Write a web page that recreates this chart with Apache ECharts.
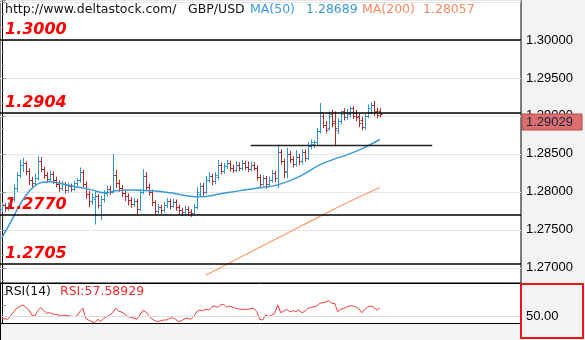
<!DOCTYPE html>
<html>
<head>
<meta charset="utf-8">
<script src="https://cdn.jsdelivr.net/npm/echarts@6/dist/echarts.min.js"></script>
<style>
  html, body { margin: 0; padding: 0; background: #f3f3f3; }
  #chart { width: 585px; height: 340px; }
</style>
</head>
<body>
<div id="chart"></div>
<script>
// GBP/USD price bars (open, high, low, close), one per period
const opens  = [1.2778,1.2783,1.2779,1.2781,1.2790,1.2805,1.2822,1.2835,1.2838,1.2828,1.2816,1.2812,1.2818,1.2840,1.2830,1.2822,1.2817,1.2824,1.2815,1.2811,
                1.2805,1.2810,1.2803,1.2808,1.2804,1.2812,1.2815,1.2826,1.2810,1.2797,1.2788,1.2790,1.2794,1.2783,1.2790,1.2798,1.2804,1.2800,1.2822,1.2812,
                1.2805,1.2799,1.2794,1.2789,1.2784,1.2788,1.2778,1.2800,1.2821,1.2806,1.2800,1.2786,1.2775,1.2780,1.2776,1.2783,1.2788,1.2782,1.2787,1.2780,
                1.2776,1.2773,1.2778,1.2774,1.2772,1.2780,1.2797,1.2808,1.2800,1.2816,1.2821,1.2814,1.2819,1.2836,1.2828,1.2834,1.2838,1.2832,1.2829,1.2836,
                1.2831,1.2838,1.2833,1.2830,1.2836,1.2832,1.2820,1.2811,1.2818,1.2810,1.2816,1.2825,1.2818,1.2852,1.2840,1.2826,1.2850,1.2843,1.2837,1.2846,
                1.2840,1.2852,1.2845,1.2860,1.2863,1.2865,1.2880,1.2900,1.2888,1.2884,1.2903,1.2893,1.2882,1.2893,1.2906,1.2899,1.2902,1.2910,1.2904,1.2900,
                1.2895,1.2885,1.2900,1.2905,1.2915,1.2907,1.2906];
const highs  = [1.2786,1.2785,1.2786,1.2793,1.2810,1.2826,1.2842,1.2845,1.2840,1.2831,1.2820,1.2824,1.2847,1.2846,1.2833,1.2826,1.2828,1.2827,1.2820,1.2815,
                1.2814,1.2813,1.2812,1.2811,1.2815,1.2818,1.2832,1.2829,1.2814,1.2801,1.2798,1.2800,1.2797,1.2795,1.2802,1.2808,1.2808,1.2850,1.2829,1.2816,
                1.2809,1.2803,1.2798,1.2793,1.2792,1.2791,1.2804,1.2830,1.2826,1.2811,1.2803,1.2789,1.2784,1.2783,1.2787,1.2792,1.2791,1.2791,1.2790,1.2783,
                1.2779,1.2782,1.2781,1.2777,1.2784,1.2806,1.2812,1.2812,1.2821,1.2826,1.2824,1.2826,1.2842,1.2839,1.2838,1.2842,1.2841,1.2836,1.2840,1.2839,
                1.2842,1.2841,1.2840,1.2840,1.2839,1.2835,1.2823,1.2822,1.2821,1.2820,1.2829,1.2828,1.2862,1.2856,1.2844,1.2858,1.2854,1.2847,1.2855,1.2850,
                1.2856,1.2856,1.2866,1.2869,1.2868,1.2884,1.2917,1.2903,1.2893,1.2906,1.2908,1.2906,1.2897,1.2907,1.2910,1.2909,1.2913,1.2913,1.2908,1.2903,
                1.2899,1.2903,1.2915,1.2918,1.2920,1.2911,1.2910];
const lows   = [1.2773,1.2774,1.2775,1.2778,1.2787,1.2800,1.2818,1.2826,1.2822,1.2809,1.2806,1.2808,1.2815,1.2826,1.2817,1.2812,1.2813,1.2810,1.2806,1.2800,
                1.2801,1.2798,1.2799,1.2800,1.2801,1.2807,1.2812,1.2806,1.2791,1.2780,1.2783,1.2757,1.2778,1.2763,1.2786,1.2794,1.2796,1.2798,1.2805,1.2800,
                1.2793,1.2788,1.2782,1.2779,1.2780,1.2769,1.2775,1.2797,1.2801,1.2795,1.2781,1.2769,1.2771,1.2771,1.2773,1.2779,1.2777,1.2779,1.2775,1.2771,
                1.2768,1.2770,1.2769,1.2767,1.2769,1.2777,1.2794,1.2795,1.2797,1.2812,1.2809,1.2810,1.2816,1.2823,1.2824,1.2830,1.2827,1.2825,1.2826,1.2827,
                1.2828,1.2829,1.2826,1.2827,1.2828,1.2815,1.2806,1.2808,1.2804,1.2806,1.2812,1.2813,1.2805,1.2836,1.2818,1.2818,1.2838,1.2832,1.2833,1.2835,
                1.2836,1.2840,1.2842,1.2856,1.2858,1.2861,1.2877,1.2884,1.2877,1.2881,1.2885,1.2860,1.2876,1.2889,1.2894,1.2895,1.2898,1.2896,1.2893,1.2885,
                1.2881,1.2882,1.2897,1.2902,1.2900,1.2897,1.2898];
const closes = [1.2783,1.2779,1.2782,1.2790,1.2805,1.2822,1.2835,1.2838,1.2828,1.2816,1.2812,1.2818,1.2840,1.2830,1.2822,1.2817,1.2824,1.2815,1.2811,1.2805,
                1.2810,1.2803,1.2808,1.2804,1.2812,1.2815,1.2826,1.2810,1.2797,1.2788,1.2793,1.2794,1.2783,1.2790,1.2798,1.2804,1.2800,1.2822,1.2812,1.2805,
                1.2799,1.2794,1.2789,1.2784,1.2788,1.2778,1.2800,1.2821,1.2806,1.2800,1.2786,1.2775,1.2780,1.2776,1.2783,1.2788,1.2782,1.2787,1.2780,1.2776,
                1.2773,1.2778,1.2774,1.2772,1.2780,1.2800,1.2808,1.2800,1.2816,1.2821,1.2814,1.2822,1.2836,1.2828,1.2834,1.2838,1.2832,1.2829,1.2836,1.2831,
                1.2838,1.2833,1.2830,1.2836,1.2832,1.2820,1.2811,1.2818,1.2810,1.2816,1.2825,1.2818,1.2852,1.2840,1.2828,1.2850,1.2843,1.2837,1.2846,1.2840,
                1.2852,1.2845,1.2860,1.2865,1.2865,1.2880,1.2905,1.2888,1.2882,1.2900,1.2890,1.2884,1.2893,1.2902,1.2899,1.2905,1.2910,1.2900,1.2898,1.2890,
                1.2885,1.2900,1.2910,1.2915,1.2905,1.2901,1.29029];

// Moving averages as [period index, value]
const ma50 = [[0,1.27395],[3,1.27605],[6,1.27829],[9,1.28000],[12,1.28105],[16,1.28132],[23,1.28079],[30,1.28026],[34,1.27987],[38,1.28013],
              [43,1.28026],[50,1.28013],[56,1.27987],[62,1.27947],[66,1.27934],[73,1.27974],[79,1.28013],[86,1.28053],[92,1.28092],[99,1.28197],
              [106,1.28355],[111,1.28434],[115,1.28487],[120,1.28566],[126,1.28689]];
const ma200 = [[68,1.26901],[85,1.27250],[100,1.27553],[113,1.27816],[126,1.28057]];

// RSI(14), one value per period
const rsi = [48.5,48.0,47.6,51.0,54.4,57.5,59.0,60.4,58.3,56.0,51.5,50.5,55.5,58.0,55.3,53.0,53.5,52.3,52.0,51.4,
             50.5,51.2,51.0,50.3,50.0,50.5,54.4,57.4,48.5,46.8,45.5,44.6,47.6,45.5,48.5,50.0,51.4,53.5,57.4,54.8,
             54.0,52.3,50.0,49.4,48.5,47.6,51.4,55.3,54.4,51.0,48.0,46.5,45.5,46.4,47.0,47.0,48.5,49.0,47.5,45.5,
             46.5,48.0,48.5,47.6,50.0,54.4,55.9,55.3,56.5,55.9,58.5,59.5,58.3,60.4,61.0,58.3,59.5,58.3,57.4,56.8,
             56.5,56.5,56.5,57.0,57.4,54.4,47.6,47.0,51.5,50.0,51.4,53.0,60.4,53.5,55.0,56.5,54.4,55.3,54.4,55.9,
             53.5,54.5,57.4,58.0,58.8,59.5,61.9,62.4,63.0,64.2,61.9,61.9,54.4,56.5,57.4,58.5,59.5,59.5,58.8,57.0,
             53.5,56.5,58.5,59.5,58.3,56.0,57.58929];

// Horizontal levels and the short support segment
const levels = [1.3000, 1.2904, 1.2770, 1.2705];
const supportLevel = 1.2861;
const supportSpan = [83, 143.5];

// Axis ticks
const priceTicks = [1.270, 1.275, 1.280, 1.285, 1.290, 1.295, 1.300];
const rsiTicks = [30, 40, 50, 60, 70, 80];

const UP = '#2b93d0';
const DOWN = '#b02828';
const MA50_COLOR = '#3a9ad9';
const MA200_COLOR = '#ff9a6a';

const bars = opens.map((o, i) => [i, o, highs[i], lows[i], closes[i]]);
const rsiData = rsi.map((v, i) => [i, v]);
const last = closes.length - 1;

const chart = echarts.init(document.getElementById('chart'), null, { renderer: 'canvas' });

const option = {
  animation: false,
  backgroundColor: '#f3f3f3',
  grid: [
    { left: 0, top: 0, width: 521, height: 283, show: true, backgroundColor: '#ffffff', borderColor: '#000', borderWidth: 1 },
    { left: 0, top: 283, width: 521, height: 56, show: true, backgroundColor: '#ffffff', borderWidth: 0 }
  ],
  xAxis: [
    { type: 'value', gridIndex: 0, min: -0.6, max: 173.1, show: false },
    { type: 'value', gridIndex: 1, min: -0.6, max: 173.1, show: false }
  ],
  yAxis: [
    {
      type: 'value', gridIndex: 0, position: 'right', min: 1.268, max: 1.30526,
      minInterval: 0.005, maxInterval: 0.005, scale: true,
      axisLine: { show: true, lineStyle: { color: '#000', width: 1 } },
      axisTick: { show: true, length: 4, lineStyle: { color: '#8a8a8a' } },
      minorTick: { show: true, splitNumber: 3, length: 2, lineStyle: { color: '#8a8a8a' } },
      splitLine: { show: true, lineStyle: { color: '#e6e6e6', width: 1 } },
      axisLabel: {
        margin: 5, color: '#000', fontFamily: 'Liberation Sans', fontSize: 13,
        showMinLabel: false, showMaxLabel: false,
        formatter: v => priceTicks.some(t => Math.abs(t - v) < 1e-7) ? v.toFixed(5) : ''
      }
    },
    {
      type: 'value', gridIndex: 1, position: 'right', min: 30, max: 80, interval: 10,
      axisLine: { show: true, lineStyle: { color: '#000', width: 1 } },
      axisTick: { show: true, length: 4, lineStyle: { color: '#8a8a8a' } },
      splitLine: { show: false },
      axisLabel: {
        margin: 5, color: '#000', fontFamily: 'Liberation Sans', fontSize: 13,
        formatter: v => (v === 50 ? v.toFixed(2) : '')
      }
    }
  ],
  series: [
    {
      name: 'GBP/USD', type: 'custom', xAxisIndex: 0, yAxisIndex: 0, z: 3,
      data: bars,
      encode: { x: 0, y: [1, 2, 3, 4] },
      renderItem: function (params, api) {
        const i = api.value(0);
        const pO = api.coord([i, api.value(1)]);
        const pH = api.coord([i, api.value(2)]);
        const pL = api.coord([i, api.value(3)]);
        const pC = api.coord([i, api.value(4)]);
        const x = Math.round(pO[0]) + 0.5;
        const color = api.value(4) >= api.value(1) ? UP : DOWN;
        const yo = Math.round(pO[1]) + 0.5;
        const yc = Math.round(pC[1]) + 0.5;
        const st = { stroke: color, lineWidth: 1 };
        return {
          type: 'group',
          children: [
            { type: 'line', shape: { x1: x, y1: pH[1], x2: x, y2: pL[1] }, style: st },
            { type: 'line', shape: { x1: x - 2, y1: yo, x2: x, y2: yo }, style: st },
            { type: 'line', shape: { x1: x, y1: yc, x2: x + 2, y2: yc }, style: st }
          ]
        };
      }
    },
    {
      name: 'MA(50)', type: 'line', xAxisIndex: 0, yAxisIndex: 0, z: 4,
      data: ma50, smooth: 0.4, symbol: 'none',
      lineStyle: { color: MA50_COLOR, width: 1.5 },
      markLine: {
        silent: true, symbol: 'none', precision: 5,
        lineStyle: { color: '#000', width: 1.5, type: 'solid' },
        label: {
          position: 'insideStartTop', distance: [5, 2],
          color: '#ff0000', fontFamily: 'DejaVu Sans', fontStyle: 'italic', fontWeight: 'bold', fontSize: 16,
          formatter: p => levels[p.dataIndex].toFixed(4)
        },
        data: levels.map(v => ({ yAxis: v }))
      }
    },
    {
      name: 'MA(200)', type: 'line', xAxisIndex: 0, yAxisIndex: 0, z: 4,
      data: ma200, smooth: 0.3, symbol: 'none',
      lineStyle: { color: MA200_COLOR, width: 1.2 }
    },
    {
      name: 'Support', type: 'line', xAxisIndex: 0, yAxisIndex: 0, z: 5,
      data: [[supportSpan[0], supportLevel], [supportSpan[1], supportLevel]],
      symbol: 'none', lineStyle: { color: '#222', width: 1.5 }
    },
    {
      name: 'RSI(14)', type: 'line', xAxisIndex: 1, yAxisIndex: 1, z: 4,
      data: rsiData, symbol: 'none',
      lineStyle: { color: '#f23a3a', width: 1 },
      markLine: {
        silent: true, symbol: 'none', label: { show: false },
        lineStyle: { color: '#dddddd', width: 1, type: 'solid' },
        data: [{ yAxis: 50 }]
      }
    }
  ]
};

chart.setOption(option);

// Overlays: header legends, panel frames and the last-price tag
const tagPos = chart.convertToPixel({ gridIndex: 0 }, [0, closes[last]]);
const txt = (x, y, text, fill, extra) => Object.assign({
  type: 'text', x: x, y: y, z: 100,
  style: Object.assign({ text: text, fill: fill, font: '12.5px "DejaVu Sans"', verticalAlign: 'middle' }, extra || {})
});

chart.setOption({
  graphic: [
    // strip under the RSI panel
    { type: 'rect', z: 50, shape: { x: 0, y: 323, width: 521, height: 17 }, style: { fill: '#f3f3f3' } },
    { type: 'line', z: 60, shape: { x1: 0, y1: 323.5, x2: 521, y2: 323.5 }, style: { stroke: '#000', lineWidth: 1 } },
    { type: 'line', z: 60, shape: { x1: 0, y1: 283.5, x2: 521, y2: 283.5 }, style: { stroke: '#000', lineWidth: 1 } },
    { type: 'line', z: 60, shape: { x1: 0.5, y1: 283, x2: 0.5, y2: 340 }, style: { stroke: '#000', lineWidth: 1 } },
    // RSI scale frame
    { type: 'rect', z: 60, shape: { x: 521, y: 284, width: 62, height: 54 }, style: { fill: 'none', stroke: '#e8141b', lineWidth: 2 } },
    // last price tag
    { type: 'rect', z: 70, shape: { x: 522, y: Math.round(tagPos[1]), width: 60, height: 16 },
      style: { fill: '#dc6f6d', stroke: '#b84a4a', lineWidth: 1 } },
    txt(526, Math.round(tagPos[1]) + 8.5, closes[last].toFixed(5), '#16213e', { font: '13px "Liberation Sans"' }),
    // header legend
    txt(5, 10, 'http://www.deltastock.com/', '#111111'),
    txt(188, 10, 'GBP/USD', '#111111'),
    txt(250, 10, 'MA(50)', MA50_COLOR),
    txt(306, 10, ma50[ma50.length - 1][1].toFixed(5), MA50_COLOR),
    txt(362, 10, 'MA(200)', '#f58a64'),
    txt(423, 10, ma200[ma200.length - 1][1].toFixed(5), '#f58a64'),
    // RSI legend
    txt(5, 292, 'RSI(14)', '#111111'),
    txt(60, 292, 'RSI:' + rsi[last].toFixed(5), '#f22b2b')
  ]
});
</script>
</body>
</html>
